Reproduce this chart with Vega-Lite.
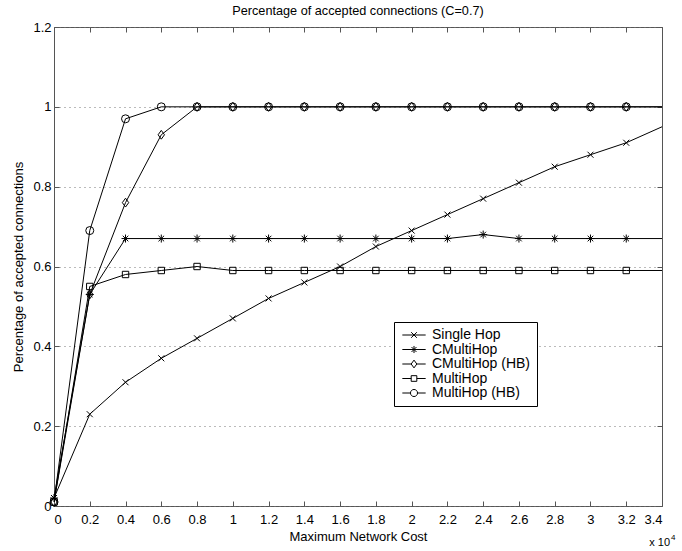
{
  "$schema": "https://vega.github.io/schema/vega-lite/v6.json",
  "width": 608,
  "height": 479,
  "autosize": {"type": "none"},
  "padding": {"left": 54, "top": 27, "right": 20, "bottom": 45},
  "background": "white",
  "title": {"text": "Percentage of accepted connections (C=0.7)", "fontSize": 12.7, "fontWeight": "normal", "font": "Liberation Sans", "color": "#000", "offset": 3, "anchor": "middle"},
  "config": {
    "font": "Liberation Sans",
    "view": {"stroke": "#555", "strokeWidth": 1},
    "axis": {"labelFont": "Liberation Sans", "labelFontSize": 13, "labelColor": "#000", "titleFont": "Liberation Sans", "titleFontSize": 13, "titleFontWeight": "normal", "titleColor": "#000", "tickColor": "#555", "domain": false},
    "legend": {"labelFont": "Liberation Sans", "labelFontSize": 14, "labelColor": "#000"}
  },
  "data": {"values": [
    {"series": "Single Hop", "x": 0, "y": 0.02},
    {"series": "Single Hop", "x": 0.2, "y": 0.23},
    {"series": "Single Hop", "x": 0.4, "y": 0.31},
    {"series": "Single Hop", "x": 0.6, "y": 0.37},
    {"series": "Single Hop", "x": 0.8, "y": 0.42},
    {"series": "Single Hop", "x": 1.0, "y": 0.47},
    {"series": "Single Hop", "x": 1.2, "y": 0.52},
    {"series": "Single Hop", "x": 1.4, "y": 0.56},
    {"series": "Single Hop", "x": 1.6, "y": 0.60},
    {"series": "Single Hop", "x": 1.8, "y": 0.65},
    {"series": "Single Hop", "x": 2.0, "y": 0.69},
    {"series": "Single Hop", "x": 2.2, "y": 0.73},
    {"series": "Single Hop", "x": 2.4, "y": 0.77},
    {"series": "Single Hop", "x": 2.6, "y": 0.81},
    {"series": "Single Hop", "x": 2.8, "y": 0.85},
    {"series": "Single Hop", "x": 3.0, "y": 0.88},
    {"series": "Single Hop", "x": 3.2, "y": 0.91},
    {"series": "Single Hop", "x": 3.4, "y": 0.95},
    {"series": "CMultiHop", "x": 0, "y": 0.02},
    {"series": "CMultiHop", "x": 0.2, "y": 0.53},
    {"series": "CMultiHop", "x": 0.4, "y": 0.67},
    {"series": "CMultiHop", "x": 0.6, "y": 0.67},
    {"series": "CMultiHop", "x": 0.8, "y": 0.67},
    {"series": "CMultiHop", "x": 1.0, "y": 0.67},
    {"series": "CMultiHop", "x": 1.2, "y": 0.67},
    {"series": "CMultiHop", "x": 1.4, "y": 0.67},
    {"series": "CMultiHop", "x": 1.6, "y": 0.67},
    {"series": "CMultiHop", "x": 1.8, "y": 0.67},
    {"series": "CMultiHop", "x": 2.0, "y": 0.67},
    {"series": "CMultiHop", "x": 2.2, "y": 0.67},
    {"series": "CMultiHop", "x": 2.4, "y": 0.68},
    {"series": "CMultiHop", "x": 2.6, "y": 0.67},
    {"series": "CMultiHop", "x": 2.8, "y": 0.67},
    {"series": "CMultiHop", "x": 3.0, "y": 0.67},
    {"series": "CMultiHop", "x": 3.2, "y": 0.67},
    {"series": "CMultiHop", "x": 3.4, "y": 0.67},
    {"series": "CMultiHop (HB)", "x": 0, "y": 0.01},
    {"series": "CMultiHop (HB)", "x": 0.2, "y": 0.53},
    {"series": "CMultiHop (HB)", "x": 0.4, "y": 0.76},
    {"series": "CMultiHop (HB)", "x": 0.6, "y": 0.93},
    {"series": "CMultiHop (HB)", "x": 0.8, "y": 1},
    {"series": "CMultiHop (HB)", "x": 1.0, "y": 1},
    {"series": "CMultiHop (HB)", "x": 1.2, "y": 1},
    {"series": "CMultiHop (HB)", "x": 1.4, "y": 1},
    {"series": "CMultiHop (HB)", "x": 1.6, "y": 1},
    {"series": "CMultiHop (HB)", "x": 1.8, "y": 1},
    {"series": "CMultiHop (HB)", "x": 2.0, "y": 1},
    {"series": "CMultiHop (HB)", "x": 2.2, "y": 1},
    {"series": "CMultiHop (HB)", "x": 2.4, "y": 1},
    {"series": "CMultiHop (HB)", "x": 2.6, "y": 1},
    {"series": "CMultiHop (HB)", "x": 2.8, "y": 1},
    {"series": "CMultiHop (HB)", "x": 3.0, "y": 1},
    {"series": "CMultiHop (HB)", "x": 3.2, "y": 1},
    {"series": "CMultiHop (HB)", "x": 3.4, "y": 1},
    {"series": "MultiHop", "x": 0, "y": 0.01},
    {"series": "MultiHop", "x": 0.2, "y": 0.55},
    {"series": "MultiHop", "x": 0.4, "y": 0.58},
    {"series": "MultiHop", "x": 0.6, "y": 0.59},
    {"series": "MultiHop", "x": 0.8, "y": 0.60},
    {"series": "MultiHop", "x": 1.0, "y": 0.59},
    {"series": "MultiHop", "x": 1.2, "y": 0.59},
    {"series": "MultiHop", "x": 1.4, "y": 0.59},
    {"series": "MultiHop", "x": 1.6, "y": 0.59},
    {"series": "MultiHop", "x": 1.8, "y": 0.59},
    {"series": "MultiHop", "x": 2.0, "y": 0.59},
    {"series": "MultiHop", "x": 2.2, "y": 0.59},
    {"series": "MultiHop", "x": 2.4, "y": 0.59},
    {"series": "MultiHop", "x": 2.6, "y": 0.59},
    {"series": "MultiHop", "x": 2.8, "y": 0.59},
    {"series": "MultiHop", "x": 3.0, "y": 0.59},
    {"series": "MultiHop", "x": 3.2, "y": 0.59},
    {"series": "MultiHop", "x": 3.4, "y": 0.59},
    {"series": "MultiHop (HB)", "x": 0, "y": 0.01},
    {"series": "MultiHop (HB)", "x": 0.2, "y": 0.69},
    {"series": "MultiHop (HB)", "x": 0.4, "y": 0.97},
    {"series": "MultiHop (HB)", "x": 0.6, "y": 1},
    {"series": "MultiHop (HB)", "x": 0.8, "y": 1},
    {"series": "MultiHop (HB)", "x": 1.0, "y": 1},
    {"series": "MultiHop (HB)", "x": 1.2, "y": 1},
    {"series": "MultiHop (HB)", "x": 1.4, "y": 1},
    {"series": "MultiHop (HB)", "x": 1.6, "y": 1},
    {"series": "MultiHop (HB)", "x": 1.8, "y": 1},
    {"series": "MultiHop (HB)", "x": 2.0, "y": 1},
    {"series": "MultiHop (HB)", "x": 2.2, "y": 1},
    {"series": "MultiHop (HB)", "x": 2.4, "y": 1},
    {"series": "MultiHop (HB)", "x": 2.6, "y": 1},
    {"series": "MultiHop (HB)", "x": 2.8, "y": 1},
    {"series": "MultiHop (HB)", "x": 3.0, "y": 1},
    {"series": "MultiHop (HB)", "x": 3.2, "y": 1},
    {"series": "MultiHop (HB)", "x": 3.4, "y": 1}
  ]},
  "resolve": {"axis": {"x": "independent", "y": "independent"}, "scale": {"shape": "independent"}},
  "layer": [
    {
      "mark": {"type": "line", "color": "#000", "strokeWidth": 1, "clip": true},
      "encoding": {
        "x": {"field": "x", "type": "quantitative", "scale": {"domain": [0, 3.4], "nice": false, "zero": false},
          "axis": {"orient": "bottom", "values": [0, 0.2, 0.4, 0.6, 0.8, 1, 1.2, 1.4, 1.6, 1.8, 2, 2.2, 2.4, 2.6, 2.8, 3, 3.2, 3.4], "format": "~g", "tickSize": -5, "labelPadding": 12, "grid": false, "title": "Maximum Network Cost", "titlePadding": 4}},
        "y": {"field": "y", "type": "quantitative", "scale": {"domain": [0, 1.2], "nice": false, "zero": false},
          "axis": {"orient": "left", "values": [0, 0.2, 0.4, 0.6, 0.8, 1, 1.2], "format": "~g", "tickSize": -5, "labelPadding": 8, "grid": true, "gridColor": "#777", "gridDash": [1, 4], "gridWidth": 1, "title": "Percentage of accepted connections", "titlePadding": 7}},
        "detail": {"field": "series"}
      }
    },
    {
      "transform": [{"filter": "datum.x < 3.3"}],
      "mark": {"type": "point", "filled": false, "stroke": "#000", "strokeWidth": 1, "size": 64, "opacity": 1},
      "encoding": {
        "x": {"field": "x", "type": "quantitative",
          "axis": {"orient": "top", "values": [0, 0.2, 0.4, 0.6, 0.8, 1, 1.2, 1.4, 1.6, 1.8, 2, 2.2, 2.4, 2.6, 2.8, 3, 3.2, 3.4], "labels": false, "tickSize": -5, "grid": false, "title": null}},
        "y": {"field": "y", "type": "quantitative",
          "axis": {"orient": "right", "values": [0, 0.2, 0.4, 0.6, 0.8, 1, 1.2], "labels": false, "tickSize": -5, "grid": false, "title": null}},
        "shape": {"field": "series", "type": "nominal", "legend": null,
          "scale": {"domain": ["Single Hop", "CMultiHop", "CMultiHop (HB)", "MultiHop", "MultiHop (HB)"],
            "range": ["M-0.75,-0.75L0.75,0.75M-0.75,0.75L0.75,-0.75", "M-1,0L1,0M0,-1L0,1M-0.7,-0.7L0.7,0.7M-0.7,0.7L0.7,-0.7", "M0,-1.1L0.8,0L0,1.1L-0.8,0Z", "M-0.8,-0.8L0.8,-0.8L0.8,0.8L-0.8,0.8Z", "circle"]}}
      }
    },
    {
      "transform": [{"filter": "datum.x < -1"}],
      "mark": {"type": "point", "filled": false, "stroke": "#000", "strokeWidth": 1, "size": 50, "opacity": 1},
      "encoding": {
        "shape": {"field": "series", "type": "nominal",
          "scale": {"domain": ["Single Hop", "CMultiHop", "CMultiHop (HB)", "MultiHop", "MultiHop (HB)"],
            "range": ["M-3.3,0L3.3,0M-0.8,-0.8L0.8,0.8M-0.8,0.8L0.8,-0.8", "M-3.3,0L3.3,0M0,-1L0,1M-0.7,-0.7L0.7,0.7M-0.7,0.7L0.7,-0.7", "M-3.3,0L-0.8,0M0.8,0L3.3,0M0,-1.1L0.8,0L0,1.1L-0.8,0Z", "M-3.3,0L-0.8,0M0.8,0L3.3,0M-0.8,-0.8L0.8,-0.8L0.8,0.8L-0.8,0.8Z", "M-3.3,0L-1,0M1,0L3.3,0M-1,0A1,1,0,1,1,1,0A1,1,0,1,1,-1,0"]},
          "legend": {"title": null, "orient": "none", "legendX": 340, "legendY": 295, "strokeColor": "#000", "fillColor": "#fff", "padding": 6, "rowPadding": 0.5, "symbolSize": 50, "symbolStrokeColor": "#000", "symbolFillColor": "transparent", "symbolStrokeWidth": 1, "symbolOpacity": 1, "symbolOffset": 7, "labelOffset": 11}}
      }
    },
    {
      "data": {"values": [{"label": "x 10"}]},
      "mark": {"type": "text", "fontSize": 11, "align": "right", "baseline": "middle", "dx": 8, "dy": 37, "color": "#000"},
      "encoding": {"text": {"field": "label"}, "x": {"datum": 3.4, "type": "quantitative", "axis": null}, "y": {"datum": 0, "type": "quantitative", "axis": null}}
    },
    {
      "data": {"values": [{"label": "4"}]},
      "mark": {"type": "text", "fontSize": 8, "align": "left", "baseline": "middle", "dx": 9, "dy": 32, "color": "#000"},
      "encoding": {"text": {"field": "label"}, "x": {"datum": 3.4, "type": "quantitative", "axis": null}, "y": {"datum": 0, "type": "quantitative", "axis": null}}
    }
  ]
}
